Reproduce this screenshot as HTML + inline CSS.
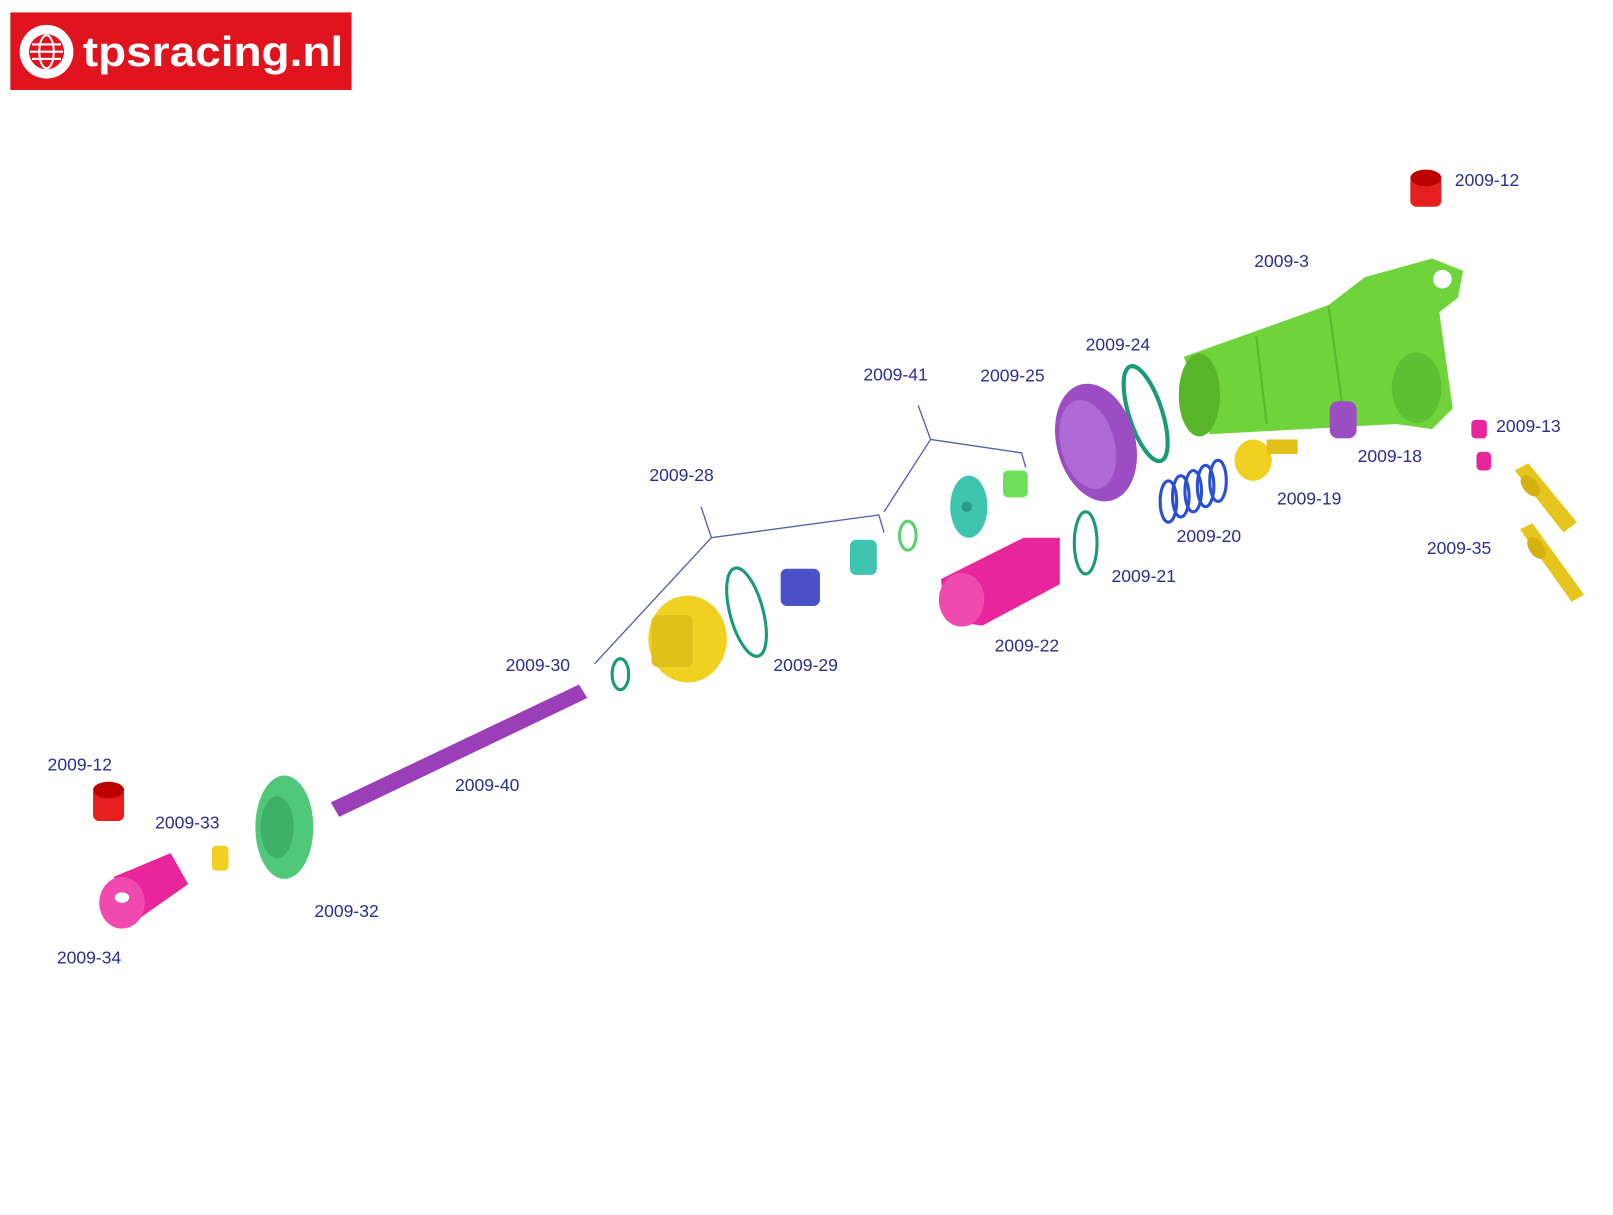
<!DOCTYPE html>
<html><head><meta charset="utf-8"><style>
html,body{margin:0;padding:0;background:#fff;}
svg{display:block}
text{font-family:"Liberation Sans",sans-serif;}
.l{fill:#2b2f8c;font-size:17px;}
</style></head><body>
<svg width="1613" height="1215" viewBox="0 0 1560 1175" preserveAspectRatio="none" xmlns="http://www.w3.org/2000/svg">
<rect width="1560" height="1175" fill="#fff"/>
<!-- logo -->
<rect x="10" y="12" width="330" height="75" fill="#e0141e"/>
<circle cx="45" cy="50" r="26" fill="#fff"/>
<circle cx="45" cy="50" r="17" fill="#e0141e"/>
<g stroke="#fff" stroke-width="2" fill="none"><ellipse cx="45" cy="50" rx="7" ry="16"/><line x1="29" y1="50" x2="61" y2="50"/><line x1="31" y1="43" x2="59" y2="43"/><line x1="31" y1="57" x2="59" y2="57"/></g>
<text x="80" y="64" fill="#fff" font-size="40" font-weight="bold" textLength="252" lengthAdjust="spacingAndGlyphs">tpsracing.nl</text>

<!-- connector brackets -->
<g stroke="#5a5fa8" stroke-width="1.3" fill="none">
<polyline points="888,392 900,425 855,495"/><polyline points="900,425 988,438 992,452"/>
<polyline points="678,490 688,520 575,642"/><polyline points="688,520 850,498 855,515"/>
</g>

<!-- top red cup -->
<rect x="1364" y="170" width="30" height="30" rx="6" fill="#e51e1e"/><ellipse cx="1379" cy="172" rx="15" ry="8" fill="#b00"/>
<!-- green body -->
<polygon points="1145,345 1285,295 1320,268 1385,250 1415,262 1410,288 1392,302 1405,395 1385,415 1350,410 1170,420" fill="#6fd33c"/>
<ellipse cx="1160" cy="382" rx="20" ry="40" fill="#58b52a"/>
<line x1="1215" y1="325" x2="1225" y2="410" stroke="#5ab82e" stroke-width="2"/>
<line x1="1285" y1="296" x2="1300" y2="405" stroke="#5ab82e" stroke-width="2"/>
<circle cx="1395" cy="270" r="9" fill="#fff"/>
<ellipse cx="1370" cy="375" rx="24" ry="34" fill="#5cc032"/>
<!-- ring 24 -->
<ellipse cx="1108" cy="400" rx="16" ry="48" transform="rotate(-18 1108 400)" fill="none" stroke="#1a9a78" stroke-width="4"/>
<!-- 25 purple -->
<ellipse cx="1060" cy="428" rx="38" ry="58" transform="rotate(-15 1060 428)" fill="#9a4ec2"/>
<ellipse cx="1052" cy="430" rx="26" ry="44" transform="rotate(-15 1052 430)" fill="#b06ad6"/>
<!-- teal 41 parts -->
<ellipse cx="937" cy="490" rx="18" ry="30" fill="#3fc4b0"/><circle cx="935" cy="490" r="5" fill="#2a9a88"/>
<rect x="970" y="455" width="24" height="26" rx="5" fill="#6fe05a"/>
<ellipse cx="878" cy="518" rx="8" ry="14" fill="none" stroke="#5ad070" stroke-width="3"/>
<!-- 28 parts -->
<rect x="822" y="522" width="26" height="34" rx="6" fill="#3fc4b0"/>
<rect x="755" y="550" width="38" height="36" rx="6" fill="#4a50c8"/>
<ellipse cx="722" cy="592" rx="16" ry="44" transform="rotate(-15 722 592)" fill="none" stroke="#1a9a78" stroke-width="3"/>
<ellipse cx="665" cy="618" rx="38" ry="42" fill="#f0d020"/>
<rect x="630" y="595" width="40" height="50" rx="6" fill="#e2c01a"/>
<ellipse cx="600" cy="652" rx="8" ry="15" fill="none" stroke="#1a9a78" stroke-width="3"/>
<!-- pink 22 -->
<polygon points="910,560 990,520 1025,520 1025,565 950,605 915,600" fill="#e8259a"/>
<ellipse cx="930" cy="580" rx="22" ry="26" fill="#f04aae"/>
<ellipse cx="1050" cy="525" rx="11" ry="30" fill="none" stroke="#1a9a78" stroke-width="3"/>
<!-- spring -->
<g fill="none" stroke="#2a4fd0" stroke-width="3">
<ellipse cx="1130" cy="485" rx="8" ry="20"/><ellipse cx="1142" cy="480" rx="8" ry="20"/><ellipse cx="1154" cy="475" rx="8" ry="20"/><ellipse cx="1166" cy="470" rx="8" ry="20"/><ellipse cx="1178" cy="465" rx="8" ry="20"/></g>
<!-- yellow 19 -->
<ellipse cx="1212" cy="445" rx="18" ry="20" fill="#f0d020"/><rect x="1225" y="425" width="30" height="14" fill="#e2c01a"/>
<!-- purple 18 -->
<rect x="1286" y="388" width="26" height="36" rx="8" fill="#9a4ec2"/>
<!-- 13 pink -->
<rect x="1423" y="406" width="15" height="18" rx="4" fill="#e8259a"/>
<rect x="1428" y="437" width="14" height="18" rx="4" fill="#e8259a"/>
<!-- 35 yellow -->
<polygon points="1465,455 1478,448 1525,505 1512,515" fill="#e6c61e"/>
<polygon points="1470,512 1482,506 1532,575 1520,582" fill="#e6c61e"/>
<ellipse cx="1480" cy="470" rx="12" ry="7" transform="rotate(50 1480 470)" fill="#d4b010"/>
<ellipse cx="1486" cy="530" rx="12" ry="7" transform="rotate(55 1486 530)" fill="#d4b010"/>
<!-- rod 40 -->
<polygon points="320,776 560,662 568,675 328,790" fill="#9a3fb8"/>
<!-- 32 green flange -->
<ellipse cx="275" cy="800" rx="28" ry="50" fill="#4fc87a"/>
<ellipse cx="268" cy="800" rx="16" ry="30" fill="#3fb068"/>
<!-- 33 nut -->
<rect x="205" y="818" width="16" height="24" rx="4" fill="#f0d020"/>
<!-- 12 red -->
<rect x="90" y="762" width="30" height="32" rx="6" fill="#e51e1e"/><ellipse cx="105" cy="764" rx="15" ry="8" fill="#b00"/>
<!-- 34 pink end -->
<polygon points="110,848 165,825 182,855 125,895" fill="#e8259a"/>
<ellipse cx="118" cy="873" rx="22" ry="25" fill="#f04aae"/><ellipse cx="118" cy="868" rx="7" ry="5" fill="#fff"/>

<!-- labels -->
<text class="l" x="1407" y="180">2009-12</text>
<text class="l" x="1213" y="258">2009-3</text>
<text class="l" x="1050" y="339">2009-24</text>
<text class="l" x="835" y="368">2009-41</text>
<text class="l" x="948" y="369">2009-25</text>
<text class="l" x="1447" y="418">2009-13</text>
<text class="l" x="1313" y="447">2009-18</text>
<text class="l" x="628" y="465">2009-28</text>
<text class="l" x="1235" y="488">2009-19</text>
<text class="l" x="1138" y="524">2009-20</text>
<text class="l" x="1380" y="536">2009-35</text>
<text class="l" x="1075" y="563">2009-21</text>
<text class="l" x="962" y="630">2009-22</text>
<text class="l" x="489" y="649">2009-30</text>
<text class="l" x="748" y="649">2009-29</text>
<text class="l" x="46" y="745">2009-12</text>
<text class="l" x="440" y="765">2009-40</text>
<text class="l" x="150" y="801">2009-33</text>
<text class="l" x="304" y="887">2009-32</text>
<text class="l" x="55" y="932">2009-34</text>
</svg>
</body></html>
